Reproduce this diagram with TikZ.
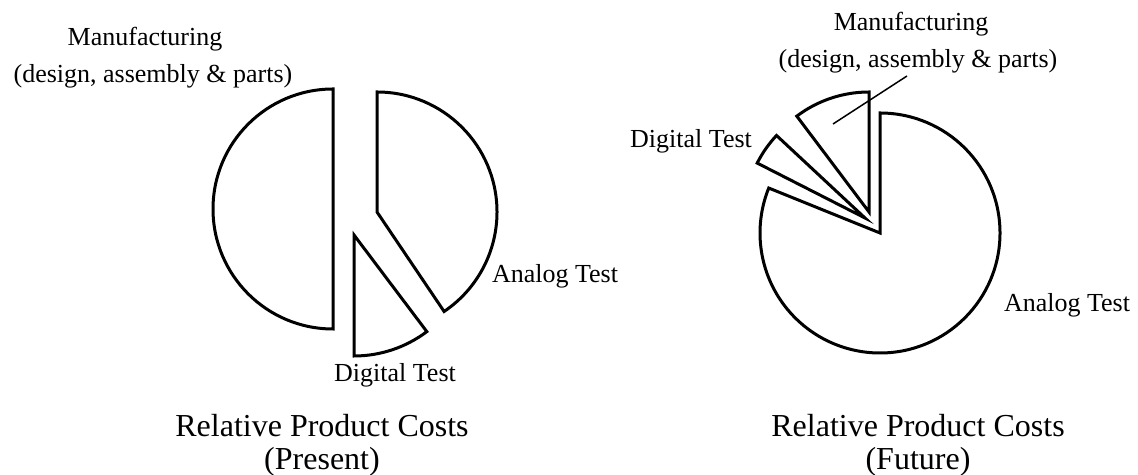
\documentclass[tikz,border=0pt]{standalone}
\usepackage{fontspec}
\setmainfont{Liberation Serif}
\usepackage{tikz}
\usetikzlibrary{positioning}

\begin{document}
\begin{tikzpicture}[x=0.5pt, y=0.5pt,
        slice/.style={draw, line width=1.5pt, line join=miter},
        lbl/.style={anchor=base, inner sep=0pt, font=\fontsize{13}{15}\selectfont},
        captxt/.style={anchor=base, inner sep=0pt, font=\fontsize{16}{18}\selectfont}]
        \useasboundingbox (0,0) rectangle (1138,475);

        % Present: three exploded slices
        \coordinate (pmfg) at (333,266);
        \coordinate (pana) at (377,263);
        \coordinate (pdig) at (354,240);
        \draw[slice] (pmfg) -- ++(90:120) arc[start angle=90, end angle=270, radius=120] -- cycle;
        \draw[slice] (pana) -- ++(90:120) arc[start angle=90, end angle=-56, radius=120] -- cycle;
        \draw[slice] (pdig) -- ++(270:121) arc[start angle=270, end angle=307, radius=121] -- cycle;

        \node[lbl] (pmfgA) at (145,429) {Manufacturing};
        \node[lbl] (pmfgB) at (153,392) {(design, assembly \& parts)};
        \node[lbl] (panaL) at (555,192) {Analog Test};
        \node[lbl] (pdigL) at (395,93) {Digital Test};
        \node[captxt] (pcapA) at (322,38) {Relative Product Costs};
        \node[captxt] (pcapB) at (322,5) {(Present)};

        % Future: analog test takes most of the pie
        \coordinate (fana) at (880,242);
        \coordinate (fmfg) at (869,263);
        \coordinate (fdig) at (865,257);
        \draw[slice] (fana) -- ++(90:120) arc[start angle=90, end angle=-202, radius=120] -- cycle;
        \draw[slice] (fmfg) -- ++(90:120) arc[start angle=90, end angle=127, radius=120] -- cycle;
        \draw[slice] (fdig) -- ++(137:121) arc[start angle=137, end angle=153, radius=121] -- cycle;

        \node[lbl] (fmfgA) at (911,444) {Manufacturing};
        \node[lbl] (fmfgB) at (918,407) {(design, assembly \& parts)};
        \node[lbl] (fanaL) at (1067,163) {Analog Test};
        \node[lbl] (fdigL) at (691,327) {Digital Test};
        \node[captxt] (fcapA) at (918,38) {Relative Product Costs};
        \node[captxt] (fcapB) at (918,5) {(Future)};

        % leader into the manufacturing slice
        \coordinate (fmfgIn) at (833,351);
        \coordinate (fmfgTip) at (907,399);
        \draw[line width=0.75pt] (fmfgIn) -- (fmfgTip);
    \end{tikzpicture}
\end{document}
